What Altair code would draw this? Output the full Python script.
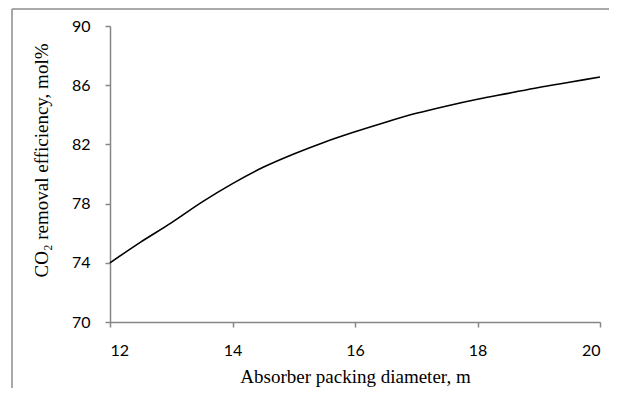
import altair as alt
import pandas as pd

diameter = [12, 12.5, 13, 13.5, 14, 14.5, 15, 15.5, 16, 16.5, 17, 17.5, 18, 18.5, 19, 19.5, 20]
efficiency = [74.0, 75.4, 76.7, 78.1, 79.35, 80.45, 81.35, 82.15, 82.85, 83.5, 84.1, 84.6, 85.05, 85.45, 85.85, 86.2, 86.55]
x_ticks = [12, 14, 16, 18, 20]
y_ticks = [70, 74, 78, 82, 86, 90]

df = pd.DataFrame({"d": diameter, "e": efficiency})

axis_color = "#868686"

line = alt.Chart(df).mark_line(color="black", strokeWidth=1.6, interpolate="monotone").encode(
    x=alt.X("d:Q", scale=alt.Scale(domain=[12, 20], nice=False),
            axis=alt.Axis(values=x_ticks, title="Absorber packing diameter, m", grid=False,
                          domainColor=axis_color, tickColor=axis_color, tickSize=5,
                          labelFont="Lato", labelFontSize=16, labelColor="black", labelPadding=15,
                          titleFont="Liberation Serif", titleFontSize=19, titleFontWeight="normal",
                          titleColor="black", titlePadding=9, domainWidth=1.5, tickWidth=1.5)),
    y=alt.Y("e:Q", scale=alt.Scale(domain=[70, 90], nice=False),
            axis=alt.Axis(values=y_ticks, title="CO₂ removal efficiency, mol%", grid=False,
                          domainColor=axis_color, tickColor=axis_color, tickSize=5,
                          labelFont="Lato", labelFontSize=16, labelColor="black", labelPadding=15,
                          titleFont="Liberation Serif", titleFontSize=19, titleFontWeight="normal",
                          titleColor="black", titlePadding=20, titleY=134, domainWidth=1.5, tickWidth=1.5)),
)

frame_src = pd.DataFrame({"k": [0]})
frame_top = alt.Chart(frame_src).mark_rule(stroke="#8c8c8c", strokeWidth=1.5).encode(
    x=alt.value(-98), x2=alt.value(640), y=alt.value(-17)
)
frame_left = alt.Chart(frame_src).mark_rule(stroke="#8c8c8c", strokeWidth=1.5).encode(
    x=alt.value(-98), y=alt.value(-17), y2=alt.value(440)
)

chart = alt.layer(frame_top, frame_left, line).properties(
    width=490, height=296,
    autosize=alt.AutoSizeParams(type="none"),
    padding={"left": 102, "top": 18, "right": 9, "bottom": 66},
).configure_view(stroke=None)

chart.save("out.html", embed_options={"renderer": "svg", "actions": False})
